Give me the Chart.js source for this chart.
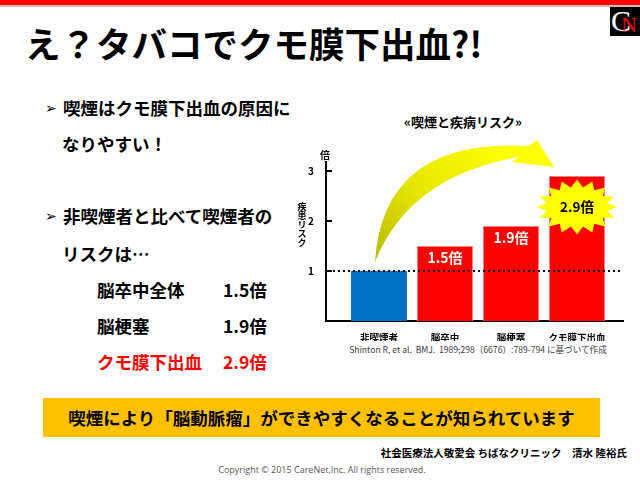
<!DOCTYPE html>
<html>
<head>
<meta charset="utf-8">
<script src="https://cdn.jsdelivr.net/npm/chart.js@4.4.1/dist/chart.umd.min.js"></script>
<style>
  body { margin: 0; background: #fff; }
  #slide { position: relative; width: 640px; height: 480px; overflow: hidden; background: #fff;
           font-family: 'Noto Sans CJK JP', sans-serif; font-weight: bold; color: #000; }
  #slide canvas { position: absolute; left: 0; top: 0; }
  .t { position: absolute; white-space: pre; }
  .b { font-size: 17.5px; line-height: 22px; }
  .red { color: #ff0000; }
</style>
</head>
<body>
<div id="slide">
  <div style="position:absolute;left:0;top:0;width:640px;height:5px;background:#ff0000"></div>
  <div style="position:absolute;left:0;top:5px;width:640px;height:2px;background:#c0c0c0"></div>
  <div style="position:absolute;left:610px;top:7px;width:30px;height:29px;background:#000;overflow:hidden">
    <span class="t" style="left:1px;top:-3px;font:normal 30px/34px 'Liberation Serif';color:#fff">C</span>
    <span class="t" style="left:11px;top:6px;font:normal 22px/24px 'Liberation Serif';color:#ff0000">N</span>
  </div>

  <div class="t" style="left:25px;top:23px;font-size:35.5px;line-height:40px">え？タバコでクモ膜下出血?!</div>

  <div class="t" style="left:45px;top:97px;font:normal 14px/22px 'DejaVu Sans'">➢</div>
  <div class="t b" style="left:63px;top:97px">喫煙はクモ膜下出血の原因に</div>
  <div class="t b" style="left:62px;top:133px">なりやすい！</div>
  <div class="t" style="left:45px;top:205px;font:normal 14px/22px 'DejaVu Sans'">➢</div>
  <div class="t b" style="left:63px;top:205px">非喫煙者と比べて喫煙者の</div>
  <div class="t b" style="left:62px;top:243px">リスクは…</div>
  <div class="t b" style="left:97px;top:279px">脳卒中全体</div>
  <div class="t b" style="left:223px;top:279px">1.5倍</div>
  <div class="t b" style="left:97px;top:315px">脳梗塞</div>
  <div class="t b" style="left:223px;top:315px">1.9倍</div>
  <div class="t b red" style="left:97px;top:351px">クモ膜下出血</div>
  <div class="t b red" style="left:223px;top:351px">2.9倍</div>

  <div class="t" style="left:363px;top:114px;width:200px;text-align:center;font-size:13px;line-height:16px">«喫煙と疾病リスク»</div>
  <div class="t" style="left:318px;top:343px;width:320px;text-align:center;font-size:8.6px;line-height:12px;font-weight:normal;color:#404040">Shinton R, et al.  BMJ.  1989;298（6676）:789-794 に基づいて作成</div>

  <div style="position:absolute;left:43px;top:398px;width:557px;height:39px;background:#ffc000;text-align:center;font-size:17.5px;line-height:39px">喫煙により「脳動脈瘤」ができやすくなることが知られています</div>
  <div class="t" style="right:13px;top:446px;font-size:10.5px;line-height:14px">社会医療法人敬愛会 ちばなクリニック　清水 隆裕氏</div>
  <div class="t" style="left:0;top:464px;width:644px;text-align:center;font:normal 9px/12px 'Open Sans';color:#595959">Copyright © 2015 CareNet,Inc. All rights reserved.</div>

  <canvas id="riskChart" width="640" height="480"></canvas>
</div>
<script>
// 喫煙と疾病リスク
const categories = ['非喫煙者', '脳卒中', '脳梗塞', 'クモ膜下出血'];
const riskValues = [1.0, 1.5, 1.9, 2.9];
const riskLabels = ['', '1.5倍', '1.9倍', '2.9倍'];
const yTicks = [1, 2, 3];
const baseline = 1;

Chart.defaults.font.family = "'Noto Sans CJK JP', sans-serif";

const decorations = {
  id: 'decorations',
  afterDatasetsDraw(chart) {
    const { ctx, chartArea: area, scales: { y } } = chart;
    const bars = chart.getDatasetMeta(0).data;
    ctx.save();

    // short ticks inside the axis
    ctx.strokeStyle = '#000';
    ctx.lineWidth = 2;
    yTicks.forEach(v => {
      const py = Math.round(y.getPixelForValue(v));
      ctx.beginPath(); ctx.moveTo(area.left, py); ctx.lineTo(area.left + 6, py); ctx.stroke();
    });
    // dotted line at 1
    const p1 = Math.round(y.getPixelForValue(baseline));
    ctx.setLineDash([2, 3]);
    ctx.beginPath(); ctx.moveTo(area.left + 7, p1); ctx.lineTo(area.right, p1); ctx.stroke();
    ctx.setLineDash([]);

    // curved arrow from first bar to last bar
    const a = bars[0], b = bars[bars.length - 1];
    const P = (o, dx, dy) => [o.x + dx, o.y + dy];
    const T = P(a, -4, -9), Co = P(a, 4, -133), Ci = P(a, 30, -95);
    const Bo = P(b, -49, -30), Bi = P(b, -58, -19);
    const H1 = P(b, -40, -36), Ht = P(b, -23, -9), H2 = P(b, -65, -14);
    const grad = ctx.createLinearGradient(T[0], T[1], b.x - 80, b.y - 30);
    grad.addColorStop(0, '#b8b800');
    grad.addColorStop(0.45, '#e4e400');
    grad.addColorStop(1, '#ffff00');
    ctx.fillStyle = grad;
    ctx.beginPath();
    ctx.moveTo(...T);
    ctx.quadraticCurveTo(...Co, ...Bo);
    ctx.lineTo(...H1); ctx.lineTo(...Ht); ctx.lineTo(...H2); ctx.lineTo(...Bi);
    ctx.quadraticCurveTo(...Ci, ...T);
    ctx.closePath();
    ctx.fill();

    // starburst on the last bar
    const cx = b.x, cy = b.y + 31, n = 16;
    ctx.fillStyle = '#ffff00';
    ctx.beginPath();
    for (let i = 0; i < n * 2; i++) {
      const ang = Math.PI * i / n - Math.PI / 2;
      const rx = i % 2 ? 31 : 40, ry = i % 2 ? 20 : 27.5;
      const px = cx + rx * Math.cos(ang), py = cy + ry * Math.sin(ang);
      i ? ctx.lineTo(px, py) : ctx.moveTo(px, py);
    }
    ctx.closePath();
    ctx.fill();

    // value labels
    ctx.textAlign = 'center';
    ctx.textBaseline = 'middle';
    bars.forEach((bar, i) => {
      if (!riskLabels[i]) return;
      const last = i === bars.length - 1;
      ctx.font = "bold " + (last ? 13.5 : 14) + "px 'Noto Sans CJK JP'";
      ctx.fillStyle = last ? '#000' : '#fff';
      ctx.fillText(riskLabels[i], bar.x, last ? cy : bar.y + 12);
    });

    // axis captions
    ctx.fillStyle = '#000';
    ctx.font = "bold 10px 'Noto Sans CJK JP'";
    ctx.fillText('倍', area.left - 1, area.top - 7);
    ctx.font = "bold 9px 'Noto Sans CJK JP'";
    const cap = '疾患リスク';
    const top = y.getPixelForValue(2) - 14;
    [...cap].forEach((ch, i) => ctx.fillText(ch, area.left - 24, top + i * 9));
    ctx.restore();
  }
};

new Chart(document.getElementById('riskChart'), {
  type: 'bar',
  data: {
    labels: categories,
    datasets: [{
      data: riskValues.map((v, i) => ({ x: i, y: v })),
      backgroundColor: c => c.dataIndex === 0 ? '#0070c0' : '#ff0000',
      borderColor: c => c.dataIndex === 0 ? '#0070c0' : '#ff8080',
      borderWidth: 1,
      categoryPercentage: 1,
      barPercentage: 0.85
    }]
  },
  options: {
    responsive: false,
    animation: false,
    devicePixelRatio: 1,
    layout: { padding: { left: 286, right: 17, top: 162, bottom: 139 } },
    plugins: { legend: { display: false }, tooltip: { enabled: false } },
    scales: {
      x: {
        type: 'linear', min: -0.803, max: 3.697, offset: false,
        grid: { display: false, offset: false },
        border: { display: true, color: '#000', width: 2 },
        afterBuildTicks: s => { s.ticks = categories.map((c, i) => ({ value: i })); },
        afterFit: s => { s.height = 20; },
        ticks: {
          callback: v => categories[v],
          autoSkip: false, maxRotation: 0, padding: 3,
          color: '#000', font: { size: 9.5, weight: 'bold' }
        }
      },
      y: {
        min: 0, max: 3.18,
        grid: { display: false },
        border: { display: true, color: '#000', width: 2 },
        afterBuildTicks: s => { s.ticks = yTicks.map(v => ({ value: v })); },
        afterFit: s => { s.width = 40; },
        ticks: { padding: 4, color: '#000', font: { size: 10, weight: 'bold' } }
      }
    }
  },
  plugins: [decorations]
});
</script>
</body>
</html>
